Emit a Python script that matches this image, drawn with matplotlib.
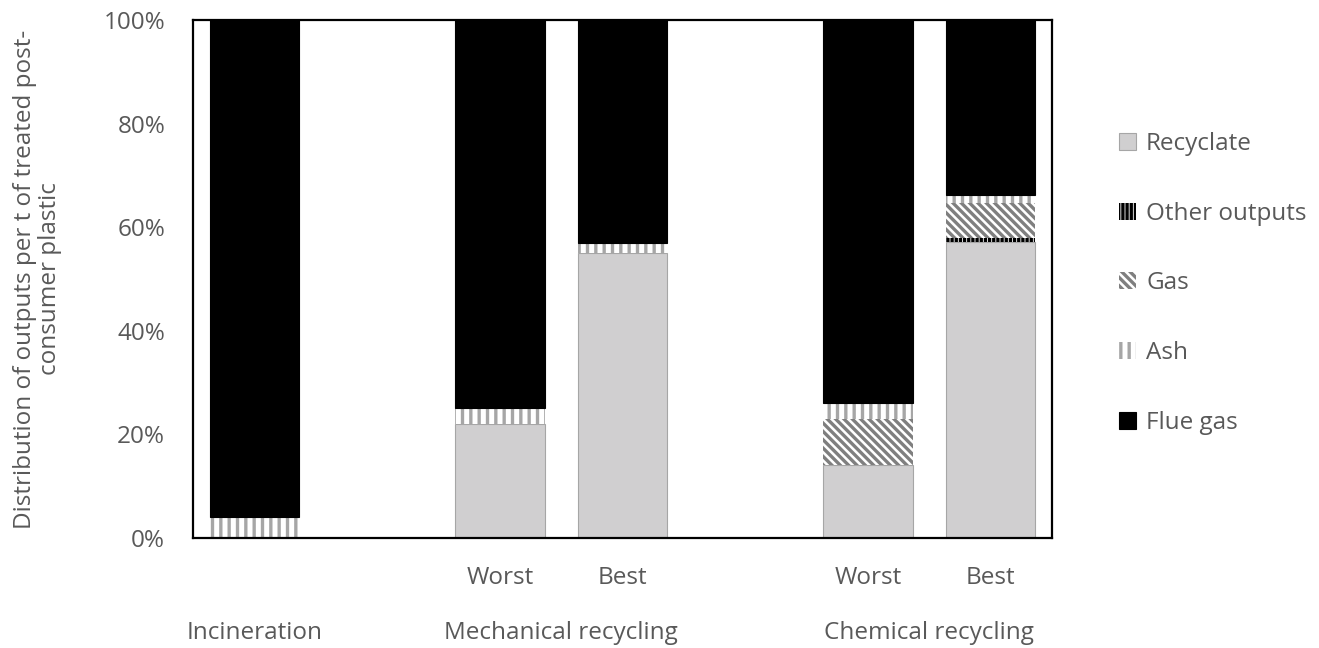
import matplotlib
matplotlib.use("Agg")
import numpy as np
import matplotlib.pyplot as plt
from matplotlib.patches import Patch
from matplotlib import transforms

plt.rcParams['font.family'] = ['Open Sans', 'DejaVu Sans']
plt.rcParams['hatch.linewidth'] = 2.4

# bars: Incineration, (gap), Mech worst, Mech best, (gap), Chem worst, Chem best
bar_labels = ['', '', 'Worst', 'Best', '', 'Worst', 'Best']
groups = ['Incineration', 'Mechanical recycling', 'Chemical recycling']
group_pos = [0, 2.5, 5.5]

recyclate = [0, 0, 22, 55, 0, 14, 57.2]
other_outputs = [0, 0, 0, 0, 0, 0, 0.8]
gas = [0, 0, 0, 0, 0, 9, 6.7]
ash = [4, 0, 3, 2, 0, 3, 1.5]
flue_gas = [96, 0, 75, 43, 0, 74, 33.8]

TXT = '#595959'
FS = 17.5

fig = plt.figure(figsize=(13.19, 6.48), dpi=100)
ax = fig.add_axes([0.1463, 0.1698, 0.6513, 0.7994])

x = np.arange(len(bar_labels))
w = 0.73
bottom = np.zeros(len(x))

series = [
    ('Recyclate', recyclate, '#d0cfd0', None, None),
    ('Other outputs', other_outputs, 'white', '||||', 'black'),
    ('Gas', gas, 'white', '\\\\\\\\', '#7f7f7f'),
    ('Ash', ash, 'white', '||', '#a6a6a6'),
    ('Flue gas', flue_gas, 'black', None, None),
]

handles = []
for name, vals, face, hatch, hcol in series:
    vals = np.array(vals, dtype=float)
    if hatch is None:
        ec = '#a6a6a6' if face != 'black' else 'black'
        ax.bar(x, vals, w, bottom=bottom, color=face, edgecolor=ec, linewidth=0.8)
        handles.append(Patch(facecolor=face, edgecolor=ec, linewidth=0.8, label=name))
    else:
        ax.bar(x, vals, w, bottom=bottom, color=face, linewidth=0)
        ax.bar(x, vals, w, bottom=bottom, facecolor='none', edgecolor=hcol,
               hatch=hatch, linewidth=0)
        handles.append(Patch(facecolor=face, edgecolor=hcol, hatch=hatch, linewidth=0, label=name))
    bottom += vals

ax.set_xlim(-0.5, len(x) - 0.5)
ax.set_ylim(0, 100)
ax.set_yticks(np.arange(0, 101, 20))
ax.set_yticklabels([f'{v}%' for v in range(0, 101, 20)])
ax.set_xticks(x)
ax.set_xticklabels(bar_labels)
ax.tick_params(axis='both', length=0, colors=TXT, labelsize=FS)
ax.tick_params(axis='y', pad=20)
ax.tick_params(axis='x', pad=20)
for s in ax.spines.values():
    s.set_linewidth(1.6)
    s.set_color('black')

trans = transforms.blended_transform_factory(ax.transData, ax.transAxes)
for g, p in zip(groups, group_pos):
    ax.text(p, -0.183, g, transform=trans, ha='center', va='center',
            fontsize=FS, color=TXT)

ax.set_ylabel('Distribution of outputs per t of treated post-\nconsumer plastic',
              fontsize=FS, color=TXT, labelpad=30, linespacing=1.05)

fig.legend(handles=handles, loc='upper left', bbox_to_anchor=(0.832, 0.83),
           frameon=False, fontsize=FS, labelcolor=TXT, handlelength=0.7,
           handleheight=0.7, handletextpad=0.4, labelspacing=1.88)

fig.savefig('out.png', dpi=100)
